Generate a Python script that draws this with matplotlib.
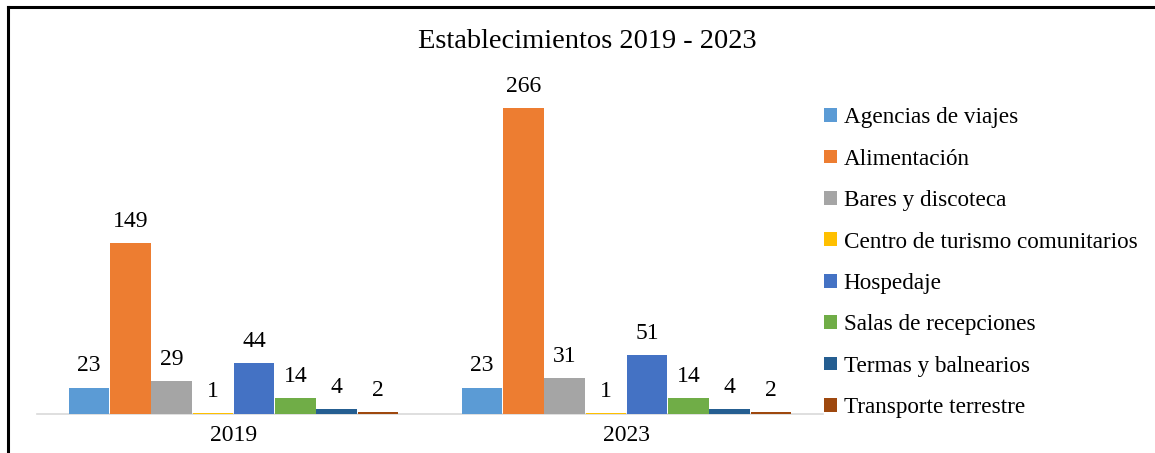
import numpy as np
import matplotlib.pyplot as plt
from matplotlib.lines import Line2D
from matplotlib.patches import Patch

plt.rcParams['font.family'] = ['Liberation Serif', 'DejaVu Serif']

# Data
years = ['2019', '2023']
categories = ['Agencias de viajes', 'Alimentación', 'Bares y discoteca',
              'Centro de turismo comunitarios', 'Hospedaje',
              'Salas de recepciones', 'Termas y balnearios',
              'Transporte terrestre']
values_2019 = [23, 149, 29, 1, 44, 14, 4, 2]
values_2023 = [23, 266, 31, 1, 51, 14, 4, 2]
colors = ['#5B9BD5', '#ED7D31', '#A5A5A5', '#FFC000',
          '#4472C4', '#70AD47', '#255E91', '#9E480E']

W, H = 1155, 453
fig = plt.figure(figsize=(W / 100, H / 100), dpi=100)
ax = fig.add_axes([37 / W, 1 - 414 / H, (823 - 37) / W, (414 - 69) / H])

x = np.arange(len(years))
width = 0.105
data = np.array([values_2019, values_2023])
for i, (cat, col) in enumerate(zip(categories, colors)):
    pos = x + (i - (len(categories) - 1) / 2) * width
    bars = ax.bar(pos, data[:, i], width * 0.985, color=col, edgecolor='none',
                  label=cat, zorder=3)
    for b, v in zip(bars, data[:, i]):
        ax.annotate(str(v), (b.get_x() + b.get_width() / 2, b.get_height()),
                    xytext=(0, 8), textcoords='offset points',
                    ha='center', va='bottom', fontsize=17, color='#000000')

ax.set_xlim(-0.5, 1.5)
ax.set_ylim(0, 300)
ax.set_yticks([])
ax.set_xticks(x)
ax.set_xticklabels(years, fontsize=17)
ax.tick_params(axis='x', length=0, pad=8)
for s in ['top', 'right', 'left']:
    ax.spines[s].set_visible(False)
ax.spines['bottom'].set_color('#D9D9D9')
ax.spines['bottom'].set_linewidth(1.2)
ax.spines['bottom'].set_zorder(1)

fig.text(587 / W, 1 - 42 / H, 'Establecimientos 2019 - 2023',
         ha='center', va='center', fontsize=20.5)

handles = [Patch(facecolor=c, edgecolor='none') for c in colors]
fig.legend(handles, categories, loc='upper left',
           bbox_to_anchor=(815 / W, 1 - 98 / H), frameon=False,
           fontsize=16.7, handlelength=0.53, handleheight=0.53,
           handletextpad=0.3, labelspacing=0.88, borderaxespad=0)

# frame lines of the original picture (left and top only)
fig.add_artist(Line2D([7.5 / W, 7.5 / W], [0, 1 - 6.5 / H], color='black',
                      lw=2.2, transform=fig.transFigure))
fig.add_artist(Line2D([7.5 / W, 1], [1 - 6.5 / H, 1 - 6.5 / H], color='black',
                      lw=2.2, transform=fig.transFigure))

fig.savefig('out.png', dpi=100)
